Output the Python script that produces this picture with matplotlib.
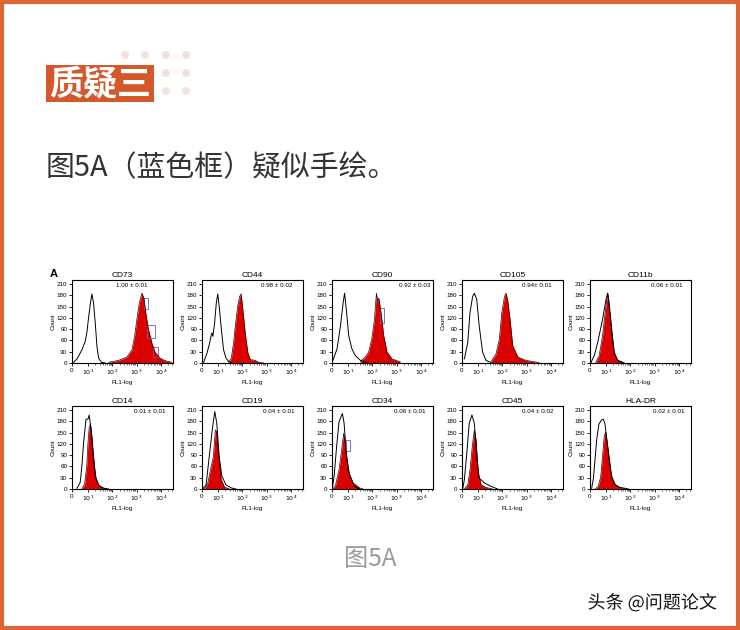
import matplotlib
matplotlib.use('Agg')
import matplotlib.pyplot as plt
from matplotlib.patches import Rectangle, Circle
import matplotlib.patheffects as pe
import numpy as np

# panel names and the value printed in each panel
markers = ['CD73', 'CD44', 'CD90', 'CD105', 'CD11b',
           'CD14', 'CD19', 'CD34', 'CD45', 'HLA-DR']
values = ['1.00 ± 0.01', '0.98 ± 0.02', '0.92 ± 0.03', '0.94± 0.01', '0.06 ± 0.01',
          '0.01 ± 0.01', '0.04 ± 0.01', '0.06 ± 0.01', '0.04 ± 0.02', '0.02 ± 0.01']

# isotype control (open curve), x in decades (1 = 10^1), y in counts
ctrl_x = [
    [0.41, 0.55, 0.75, 0.89, 0.96, 1.03, 1.10, 1.16, 1.23, 1.30, 1.37, 1.44, 1.55, 1.71],
    [0.41, 0.55, 0.64, 0.71, 0.75, 0.79, 0.86, 0.93, 0.99, 1.05, 1.14, 1.23, 1.33, 1.44, 1.58],
    [0.38, 0.55, 0.69, 0.80, 0.86, 0.93, 1.03, 1.16, 1.30, 1.51, 1.78],
    [0.44, 0.58, 0.67, 0.78, 0.85, 0.95, 1.05, 1.19, 1.33, 1.54],
    [0.38, 0.52, 0.66, 0.86, 1.00, 1.07, 1.13, 1.25, 1.34, 1.48, 1.69],
    [0.55, 0.68, 0.75, 0.82, 0.92, 1.00, 1.05, 1.11, 1.19, 1.30, 1.44, 1.64, 1.85],
    [0.37, 0.51, 0.64, 0.78, 0.87, 0.95, 1.05, 1.16, 1.33, 1.54, 1.74],
    [0.35, 0.43, 0.52, 0.63, 0.77, 0.84, 0.93, 1.07, 1.27, 1.48],
    [0.37, 0.44, 0.55, 0.64, 0.75, 0.85, 0.95, 1.05, 1.27, 1.54, 1.81],
    [0.41, 0.48, 0.55, 0.62, 0.71, 0.82, 0.89, 0.96, 1.03, 1.14, 1.23, 1.37, 1.58, 1.78, 1.92],
]
ctrl_y = [
    [2, 11, 35, 58, 84, 124, 159, 184, 159, 106, 44, 13, 2, 0],
    [2, 27, 49, 71, 80, 71, 106, 159, 184, 151, 89, 35, 13, 4, 0],
    [7, 38, 99, 160, 186, 143, 73, 38, 20, 7, 1],
    [11, 55, 134, 177, 186, 169, 99, 29, 7, 1],
    [1, 20, 55, 116, 169, 186, 160, 81, 29, 7, 1],
    [2, 18, 62, 124, 186, 186, 197, 168, 106, 35, 9, 2, 0],
    [0, 11, 86, 166, 206, 175, 86, 34, 11, 3, 0],
    [0, 34, 104, 179, 201, 175, 95, 34, 7, 0],
    [0, 25, 104, 175, 197, 175, 86, 29, 16, 7, 0],
    [2, 27, 80, 133, 173, 184, 186, 173, 133, 80, 35, 11, 4, 2, 0],
]

# stained sample (red filled curve)
pos_x = [
    [1.85, 2.26, 2.60, 2.81, 2.92, 3.01, 3.11, 3.22, 3.30, 3.38, 3.49, 3.63, 3.77, 3.97, 4.18, 4.45],
    [1.44, 1.55, 1.64, 1.71, 1.81, 1.89, 1.95, 2.01, 2.12, 2.23, 2.33, 2.53, 2.67, 2.88],
    [1.51, 1.71, 1.85, 1.98, 2.09, 2.17, 2.22, 2.27, 2.36, 2.47, 2.61, 2.81, 3.15],
    [1.54, 1.74, 1.88, 1.98, 2.09, 2.15, 2.22, 2.32, 2.43, 2.64, 2.97, 3.52],
    [0.58, 0.72, 0.86, 0.98, 1.07, 1.13, 1.25, 1.34, 1.48, 1.75],
    [0.75, 0.86, 0.95, 1.00, 1.05, 1.10, 1.16, 1.25, 1.33, 1.44, 1.58, 1.78],
    [0.44, 0.58, 0.72, 0.81, 0.89, 0.95, 1.01, 1.13, 1.27, 1.47],
    [0.38, 0.49, 0.63, 0.74, 0.82, 0.87, 1.00, 1.21, 1.48, 1.62],
    [0.44, 0.58, 0.67, 0.78, 0.85, 0.92, 1.01, 1.13, 1.33, 1.60],
    [0.55, 0.68, 0.78, 0.86, 0.93, 0.99, 1.05, 1.14, 1.23, 1.37, 1.55, 1.78],
]
pos_y = [
    [2, 7, 16, 35, 71, 115, 159, 186, 173, 133, 89, 53, 28, 13, 6, 2],
    [2, 13, 53, 97, 151, 177, 184, 151, 80, 27, 9, 7, 2, 0],
    [4, 16, 29, 64, 116, 186, 164, 173, 134, 73, 29, 11, 3],
    [4, 24, 64, 134, 177, 186, 169, 116, 46, 16, 7, 1],
    [1, 20, 73, 143, 186, 151, 73, 24, 7, 1],
    [0, 13, 62, 124, 164, 173, 142, 71, 27, 11, 4, 0],
    [0, 16, 60, 86, 157, 153, 104, 25, 5, 0],
    [0, 11, 51, 104, 148, 131, 51, 16, 3, 0],
    [0, 11, 51, 122, 157, 131, 42, 11, 4, 0],
    [0, 7, 31, 89, 142, 151, 124, 71, 31, 13, 4, 0],
]

# suspicious boxes: (panel, x0, x1, y0, y1)
boxes = [(0, 3.30, 3.47, 144, 173), (0, 3.42, 3.74, 66, 102), (0, 3.66, 3.88, 16, 43),
         (2, 2.33, 2.50, 106, 147), (7, 0.90, 1.10, 100, 131)]

y_ticks = [0, 30, 60, 90, 120, 150, 180, 210]
x_ticks = [0.342, 1, 2, 3, 4]
x_labels = ['0', r'$10^1$', r'$10^2$', r'$10^3$', r'$10^4$']

# layout
value_xpos = [0.59, 0.74, 0.82, 0.74, 0.76, 0.77, 0.76, 0.77, 0.75, 0.78]
lefts = [72, 202, 332, 462, 590]
tops = [280, 406]
aw, ah = 101, 83

W, H = 740, 630
fig = plt.figure(figsize=(W / 100, H / 100), dpi=100)
cjk = ['Noto Sans CJK SC', 'DejaVu Sans']
panel_font = ['Liberation Sans', 'DejaVu Sans']

# background layer in pixel coordinates
bg = fig.add_axes([0, 0, 1, 1])
bg.set_xlim(0, W)
bg.set_ylim(H, 0)
bg.axis('off')
bg.add_patch(Rectangle((2, 2), W - 4, H - 4, fill=False, edgecolor='#DD6638', linewidth=3))
for dx in [125, 145, 166, 186]:
    for dy in [55, 73, 91]:
        bg.add_patch(Circle((dx, dy), 4, color='#F3E2DA', linewidth=0))
bg.add_patch(Rectangle((46, 65), 108, 37, color='#D4582A', linewidth=0))
bg.text(100, 84, '质疑三', family=cjk, fontsize=24.5, fontweight='bold', color='white',
        ha='center', va='center')
bg.text(46, 168, '图5A（蓝色框）疑似手绘。', family=cjk, fontsize=20.8, color='#333333',
        ha='left', va='center')
bg.text(370, 559, '图5A', family=cjk, fontsize=17.5, color='#9a9a9a', ha='center', va='center')
bg.text(652, 603, '头条 @问题论文', family=cjk, fontsize=13, color='#111111',
        ha='center', va='center',
        path_effects=[pe.withStroke(linewidth=2.5, foreground='white')])
bg.text(50, 274, 'A', family=panel_font, fontsize=8, fontweight='bold', ha='left', va='center')

minor = [np.log10(k) + d for d in range(1, 5) for k in range(2, 10) if np.log10(k) + d < 4.5]

for i, name in enumerate(markers):
    l = lefts[i % 5]
    t = tops[i // 5]
    ax = fig.add_axes([l / W, 1 - (t + ah) / H, aw / W, ah / H])
    ax.fill_between(pos_x[i], pos_y[i], color='#DD0000', linewidth=0)
    ax.plot(pos_x[i], pos_y[i], color='#300000', linewidth=0.5)
    ax.plot(ctrl_x[i], ctrl_y[i], color='black', linewidth=0.7)
    for b in boxes:
        if b[0] == i:
            ax.add_patch(Rectangle((b[1], b[3]), b[2] - b[1], b[4] - b[3], fill=False,
                                   edgecolor='#7a5cb0', linewidth=0.6))
    ax.set_xlim(0.342, 4.5)
    ax.set_ylim(0, 221)
    ax.set_yticks(y_ticks)
    ax.set_yticklabels([str(v) for v in y_ticks], family=panel_font, fontsize=4.5)
    ax.set_xticks(x_ticks)
    ax.set_xticklabels(x_labels, family=panel_font, fontsize=4.5)
    ax.set_xticks(minor, minor=True)
    ax.tick_params(length=2, width=0.6, pad=1.5)
    ax.tick_params(which='minor', length=1.2, width=0.4)
    for s in ax.spines.values():
        s.set_linewidth(0.8)
    ax.set_title(name, family=panel_font, fontsize=6, pad=2)
    ax.set_ylabel('Count', family=panel_font, fontsize=4.5, labelpad=1)
    ax.set_xlabel('FL1-log', family=panel_font, fontsize=4.5, labelpad=2)
    ax.text(value_xpos[i], 0.93, values[i], transform=ax.transAxes, family=panel_font,
            fontsize=4.5, ha='center', va='center')

fig.savefig('out.png', dpi=100)
